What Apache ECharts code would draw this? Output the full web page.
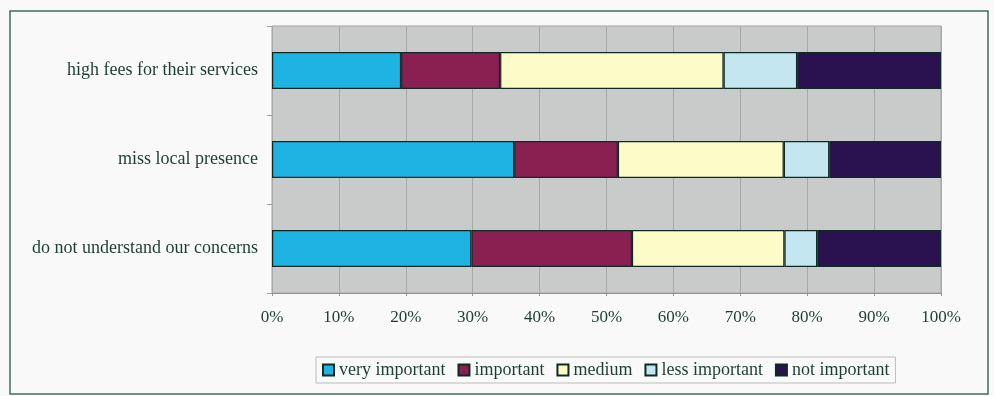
<!DOCTYPE html>
<html>
<head>
<meta charset="utf-8">
<script src="https://cdn.jsdelivr.net/npm/echarts@6/dist/echarts.min.js"></script>
<style>
  html, body { margin: 0; padding: 0; background: #f8f9f8; }
  #chart { width: 994px; height: 396px; }
</style>
</head>
<body>
<div id="chart"></div>
<script>
// Reasons given, top to bottom
const categories = [
  'high fees for their services',
  'miss local presence',
  'do not understand our concerns'
];

// Share of answers per importance level (%), one value per reason
const veryImportant = [19.3, 36.2, 29.8];
const important     = [14.8, 15.5, 24.0];
const medium        = [33.4, 24.8, 22.8];
const lessImportant = [11.0, 6.8, 4.9];
const notImportant  = [21.5, 16.7, 18.5];

const seriesNames = ['very important', 'important', 'medium', 'less important', 'not important'];
const seriesData = [veryImportant, important, medium, lessImportant, notImportant];
const seriesColors = ['#1fb3e3', '#8a1f52', '#fdfcc8', '#c3e6f0', '#2a1250'];

const textColor = '#1f3d33';
const fontFamily = '"Liberation Serif", "DejaVu Serif", serif';

const chart = echarts.init(document.getElementById('chart'));

chart.setOption({
  backgroundColor: '#f8f9f8',
  textStyle: { fontFamily: fontFamily, color: textColor },
  graphic: [{
    type: 'rect',
    shape: { x: 10, y: 11, width: 978, height: 383 },
    style: { fill: 'none', stroke: '#3f6e5b', lineWidth: 1.5 },
    z: -1
  }],
  grid: {
    left: 272, right: 53, top: 26, bottom: 103,
    show: true,
    backgroundColor: '#c9cbca',
    borderColor: '#a3a6a5',
    borderWidth: 1
  },
  legend: {
    bottom: 13,
    left: 316,
    data: seriesNames,
    itemWidth: 11,
    itemHeight: 11,
    itemGap: 12,
    padding: [4, 6],
    borderColor: '#b9bdbb',
    borderWidth: 1,
    icon: 'rect',
    textStyle: { fontFamily: fontFamily, fontSize: 18, color: textColor }
  },
  xAxis: {
    type: 'value',
    min: 0,
    max: 100,
    interval: 10,
    axisLine: { show: true, lineStyle: { color: '#8e9290', width: 1 } },
    axisTick: { show: true, length: 3, lineStyle: { color: '#8e9290' } },
    splitLine: { show: true, lineStyle: { color: '#a6a9a8', width: 1 } },
    axisLabel: {
      formatter: '{value}%',
      fontFamily: fontFamily,
      fontSize: 17,
      color: textColor,
      margin: 16
    }
  },
  yAxis: {
    type: 'category',
    inverse: true,
    data: categories,
    axisLine: { show: false },
    axisTick: { show: true, length: 5, lineStyle: { color: '#9a9e9c' } },
    axisLabel: {
      fontFamily: fontFamily,
      fontSize: 18,
      color: textColor,
      margin: 14
    }
  },
  series: seriesNames.map((name, i) => ({
    name: name,
    type: 'bar',
    stack: 'total',
    barWidth: 37,
    data: seriesData[i],
    itemStyle: {
      color: seriesColors[i],
      borderColor: '#0f2a22',
      borderWidth: 1.2
    },
    emphasis: { disabled: true }
  })),
  animation: false
});
</script>
</body>
</html>
